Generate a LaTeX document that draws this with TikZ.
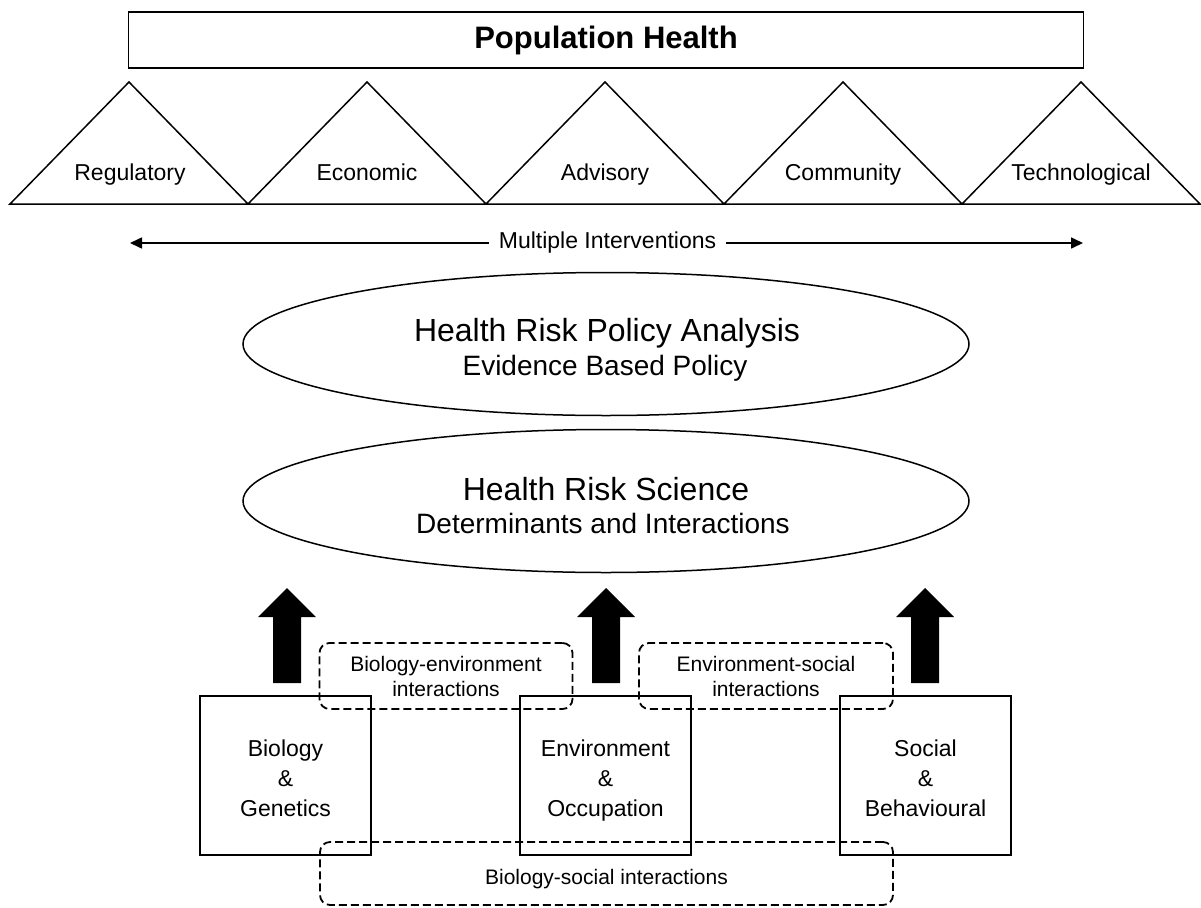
\documentclass[tikz,border=0pt]{standalone}
\usepackage{fontspec}
\setmainfont{Liberation Sans}
\usetikzlibrary{shapes.geometric,arrows.meta}
\newcommand\myTopStrut{\rule{0pt}{31pt}}
\begin{document}
\begin{tikzpicture}[x=1pt,y=-1pt,
  solid line/.style={draw, line width=1.7pt},
  tri/.style={draw, line width=1.5pt, line join=miter},
  lab/.style={font=\fontsize{23}{27}\selectfont, inner sep=0pt, anchor=base},
  factor/.style={draw, line width=1.7pt, minimum width=171pt, minimum height=159pt,
     align=center, inner sep=0pt, font=\fontsize{23}{30}\selectfont},
  inter/.style={draw, dash pattern=on 8pt off 4pt, line width=1.8pt,
     rounded corners=10pt, align=center, inner sep=0pt,
     font=\fontsize{21}{25}\selectfont},
  interlab/.style={font=\fontsize{21}{25}\selectfont, inner sep=0pt, anchor=base},
  oval/.style={draw, ellipse, line width=1.5pt, minimum width=726pt, minimum height=143pt, inner sep=0pt},
  bigarrow/.style={fill=black},
  title/.style={font=\fontsize{32}{36}\selectfont, anchor=base, inner sep=0pt},
  subtitle/.style={font=\fontsize{28}{32}\selectfont, anchor=base, inner sep=0pt}
]
\useasboundingbox (0,0) rectangle (1201,907);

% Top bar
\node[solid line, minimum width=955pt, minimum height=56pt, inner sep=0pt,
      font=\fontsize{31}{35}\selectfont\bfseries] (ph) at (606,40) {Population Health};

% Triangles
\foreach \i in {0,1,2,3,4}{
  \pgfmathsetmacro{\xl}{10+238*\i}
  \pgfmathsetmacro{\xa}{129+238*\i}
  \pgfmathsetmacro{\xr}{248+238*\i}
  \draw[tri] (\xl,204) -- (\xa,82) -- (\xr,204) -- cycle;
}
\node[lab] (reg) at (130,180) {Regulatory};
\node[lab] (eco) at (367,180) {Economic};
\node[lab] (adv) at (605,180) {Advisory};
\node[lab] (com) at (843,180) {Community};
\node[lab] (tec) at (1081,180) {Technological};

% Multiple interventions arrow
\node[font=\fontsize{23}{27}\selectfont, inner xsep=10pt, inner ysep=0pt] (mi) at (607.5,243) {Multiple Interventions};
\coordinate (mL) at (130,243);
\coordinate (mR) at (1083,243);
\draw[line width=1.6pt, -{Triangle[length=12pt,width=11pt]}] (mi.west) -- (mL);
\draw[line width=1.6pt, -{Triangle[length=12pt,width=11pt]}] (mi.east) -- (mR);

% Ellipses
\node[oval] (hrpa) at (606,344) {};
\node[title] (hrpat) at (607,341.5) {Health Risk Policy Analysis};
\node[subtitle] (hrpas) at (605,375) {Evidence Based Policy};

\node[oval] (hrs) at (606,501) {};
\node[title] (hrst) at (606,500.5) {Health Risk Science};
\node[subtitle] (hrss) at (603,533) {Determinants and Interactions};

% Big arrows
\foreach \c in {287,606,925}{
  \fill[bigarrow] (\c-14,683) -- (\c-14,617) -- (\c-29,617) -- (\c,588)
     -- (\c+29,617) -- (\c+14,617) -- (\c+14,683) -- cycle;
}

% Factor boxes
\node[factor] (bio) at (285.5,775.5) {\myTopStrut Biology\\\&\\Genetics\strut};
\node[factor] (env) at (605.5,775.5) {\myTopStrut Environment\\\&\\Occupation\strut};
\node[factor] (soc) at (925.5,775.5) {\myTopStrut Social\\\&\\Behavioural\strut};

% Interaction boxes
\node[inter, minimum width=253pt, minimum height=66pt] (be) at (446,676) {Biology-environment\\interactions};
\node[inter, minimum width=254pt, minimum height=66pt] (es) at (766,676) {Environment-social\\interactions};
\node[inter, minimum width=573pt, minimum height=63pt] (bs) at (606.5,873.5) {};
\node[interlab] (bst) at (606.5,884.5) {Biology-social interactions};

\end{tikzpicture}
\end{document}
